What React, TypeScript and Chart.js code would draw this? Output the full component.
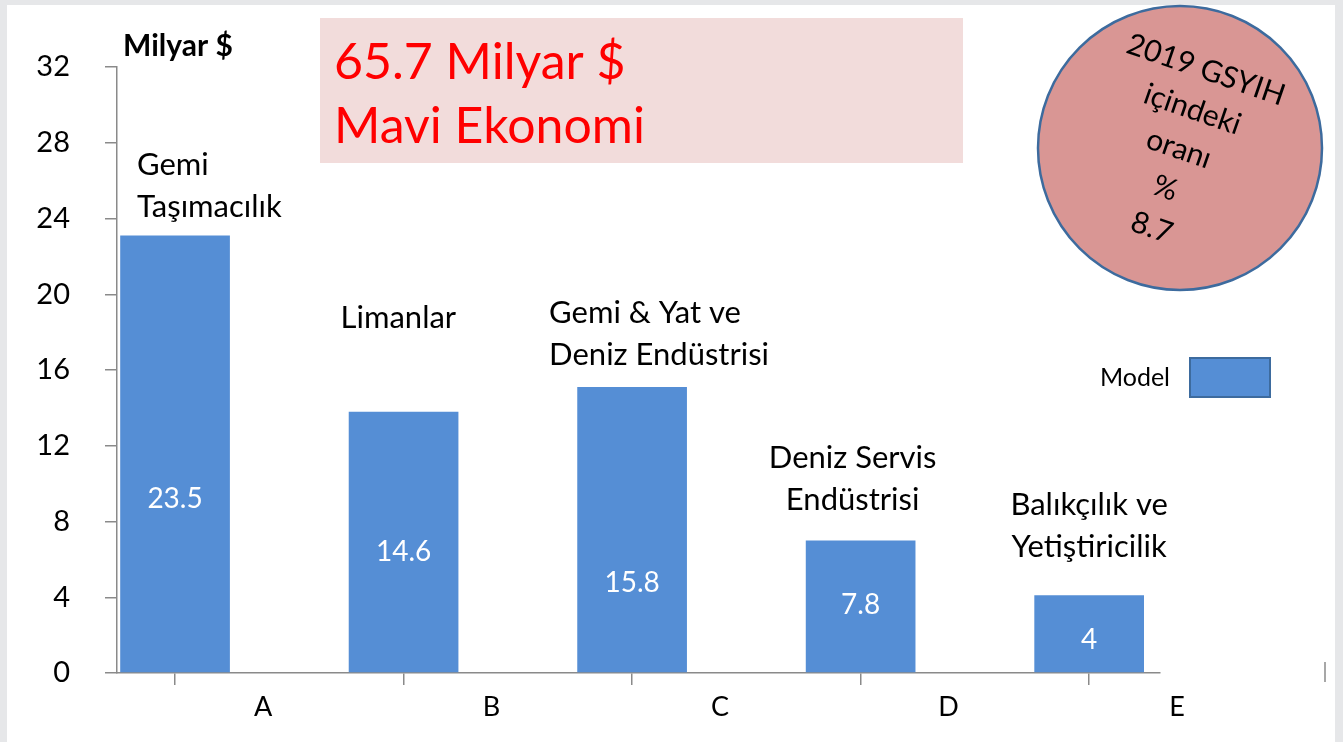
import React, { useEffect, useRef } from "react";
import { Chart, registerables } from "chart.js";

Chart.register(...registerables);

// ---------- data ----------
const categories = ["A", "B", "C", "D", "E"];
const seriesName = "Model";
const barValues = [23.1, 13.8, 15.1, 7.0, 4.1];
const valueLabels = ["23.5", "14.6", "15.8", "7.8", "4"];
const sectorNames = [
  ["Gemi", "Taşımacılık"],
  ["Limanlar"],
  ["Gemi & Yat ve", "Deniz Endüstrisi"],
  ["Deniz Servis", "Endüstrisi"],
  ["Balıkçılık ve", "Yetiştiricilik"],
];
const yMin = 0;
const yMax = 32;
const yStep = 4;
const yAxisTitle = "Milyar $";
const headlineLines = ["65.7 Milyar $", "Mavi Ekonomi"];
const gdpShareLines = ["2019 GSYIH", "içindeki", "oranı", "%", "8.7"];

// ---------- styling / layout (not data) ----------
const FONT = "Lato, 'Open Sans', sans-serif";
const BAR_COLOR = "#558ed5";
const AXIS_COLOR = "#8a8a8a";
// where inside each bar the value text sits (in axis units)
const valueLabelAnchor = [9.2, 6.4, 4.75, 3.6, 1.75];
// sector label placement relative to each bar
const sectorLayout = [
  { dx: -38, align: "left", gap: 29 },
  { dx: -63, align: "left", gap: 94 },
  { dx: -83, align: "left", gap: 32 },
  { dx: -8, align: "center", gap: 40 },
  { dx: 0, align: "center", gap: 48 },
];

const decorPlugin = {
  id: "decor",
  beforeDraw(chart: any) {
    const ctx = chart.ctx as CanvasRenderingContext2D;
    const W = chart.width;
    const H = chart.height;
    ctx.save();
    ctx.fillStyle = "#e6e7e9";
    ctx.fillRect(0, 0, W, H);
    ctx.fillStyle = "#ffffff";
    ctx.fillRect(7, 5, 1328, H - 5);

    // headline box
    ctx.fillStyle = "#f2dcdb";
    ctx.fillRect(320, 18, 643, 145);
    ctx.fillStyle = "#ff0000";
    ctx.font = `50px ${FONT}`;
    ctx.textAlign = "left";
    ctx.textBaseline = "middle";
    ctx.fillText(headlineLines[0], 334, 63);
    ctx.fillText(headlineLines[1], 334, 127);

    // y axis title
    ctx.fillStyle = "#000";
    ctx.font = `bold 30px ${FONT}`;
    ctx.textBaseline = "middle";
    ctx.fillText(yAxisTitle, 123, 46);

    // circle
    ctx.beginPath();
    ctx.arc(1180, 148, 142, 0, Math.PI * 2);
    ctx.fillStyle = "#d99694";
    ctx.fill();
    ctx.lineWidth = 2.5;
    ctx.strokeStyle = "#3d6b9e";
    ctx.stroke();
    const th = (19 * Math.PI) / 180;
    ctx.fillStyle = "#000";
    ctx.font = `30px ${FONT}`;
    ctx.textAlign = "center";
    gdpShareLines.forEach((t, i) => {
      const cx = 1206 - i * 41.7 * Math.sin(th);
      const cy = 70 + i * 41.7 * Math.cos(th);
      ctx.save();
      ctx.translate(cx, cy);
      ctx.rotate(th);
      ctx.fillText(t, 0, 0);
      ctx.restore();
    });

    // legend
    const ds = chart.data.datasets[0];
    ctx.font = `25px ${FONT}`;
    ctx.textAlign = "right";
    ctx.fillStyle = "#000";
    ctx.fillText(ds.label, 1170, 378);
    ctx.fillStyle = ds.backgroundColor;
    ctx.fillRect(1190, 358, 80, 39);
    ctx.strokeStyle = "#3d6b9e";
    ctx.lineWidth = 2;
    ctx.strokeRect(1190, 358, 80, 39);

    // stray tick at right edge
    ctx.strokeStyle = AXIS_COLOR;
    ctx.lineWidth = 1.5;
    ctx.beginPath();
    ctx.moveTo(1325, 662);
    ctx.lineTo(1325, 682);
    ctx.stroke();
    ctx.restore();
  },
  afterDatasetsDraw(chart: any) {
    const ctx = chart.ctx as CanvasRenderingContext2D;
    const meta = chart.getDatasetMeta(0);
    const yScale = chart.scales.y;
    ctx.save();
    ctx.textBaseline = "middle";
    meta.data.forEach((bar: any, i: number) => {
      // value text inside bar
      ctx.fillStyle = "#ffffff";
      ctx.font = `28px ${FONT}`;
      ctx.textAlign = "center";
      ctx.fillText(valueLabels[i], bar.x, yScale.getPixelForValue(valueLabelAnchor[i]));
      // sector name above bar
      const lay = sectorLayout[i];
      const lines = sectorNames[i];
      ctx.fillStyle = "#000";
      ctx.font = `31px ${FONT}`;
      ctx.textAlign = lay.align as CanvasTextAlign;
      const x = bar.x + lay.dx;
      lines.forEach((t, j) => {
        const y = bar.y - lay.gap - (lines.length - 1 - j) * 42;
        ctx.fillText(t, x, y);
      });
    });
    ctx.restore();
  },
};

export default function App() {
  const ref = useRef<HTMLCanvasElement | null>(null);
  useEffect(() => {
    if (!ref.current) return;
    const chart = new Chart(ref.current, {
      type: "bar",
      data: {
        datasets: [
          {
            label: seriesName,
            data: barValues.map((v, i) => ({ x: i, y: v })),
            backgroundColor: BAR_COLOR,
            borderWidth: 0,
            barPercentage: 0.6,
            categoryPercentage: 0.8,
          } as any,
        ],
      },
      options: {
        responsive: false,
        animation: false,
        events: [],
        layout: { padding: { left: 0, top: 67, right: 183, bottom: 0 } },
        plugins: { legend: { display: false }, tooltip: { enabled: false } },
        scales: {
          x: {
            type: "linear",
            offset: false,
            min: -0.254,
            max: 4.31,
            afterFit: (s: any) => {
              s.height = 69;
            },
            grid: { offset: false, drawOnChartArea: false, tickLength: 12, color: AXIS_COLOR, lineWidth: 1.5 },
            border: { color: AXIS_COLOR, width: 1.5 },
            ticks: {
              stepSize: 1,
              includeBounds: false,
              autoSkip: false,
              maxRotation: 0,
              labelOffset: 88,
              padding: 6,
              color: "#000",
              font: { family: FONT, size: 27 },
              callback: (v: any) => categories[v] ?? "",
            },
          },
          y: {
            min: yMin,
            max: yMax,
            afterFit: (s: any) => {
              s.width = 117;
            },
            grid: { drawOnChartArea: false, tickLength: 12, color: AXIS_COLOR, lineWidth: 1.5 },
            border: { color: AXIS_COLOR, width: 1.5 },
            ticks: {
              stepSize: yStep,
              padding: 35,
              color: "#000",
              font: { family: FONT, size: 29 },
            },
          },
        },
      },
      plugins: [decorPlugin],
    });
    return () => chart.destroy();
  }, []);
  return (
    <div style={{ position: "fixed", left: 0, top: 0, width: 1343, height: 742, background: "#e6e7e9" }}>
      <canvas ref={ref} width={1343} height={742} style={{ display: "block", width: 1343, height: 742 }} />
    </div>
  );
}
